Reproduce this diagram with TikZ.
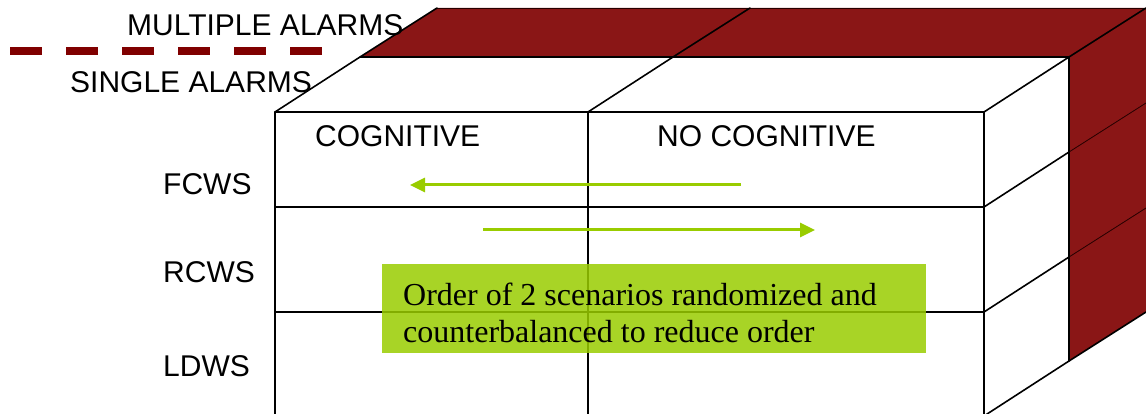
\documentclass[tikz,border=0pt]{standalone}
\usepackage{fontspec}
\setmainfont{Liberation Sans}
\newfontfamily\notefont{Liberation Serif}
\usetikzlibrary{arrows.meta}
\definecolor{alarmred}{RGB}{128,0,0}
\definecolor{slabred}{RGB}{138,22,22}
\definecolor{notegreen}{RGB}{153,204,0}

\begin{document}
\begin{tikzpicture}[x=1pt,y=-1pt,
  edge/.style={draw=black,line width=1.6pt,line join=round,line cap=round},
  faint/.style={draw=black!70!alarmred,line width=0.8pt},
  lbl/.style={font=\fontsize{30}{36}\selectfont,inner sep=0pt,anchor=base west},
  order/.style={draw=notegreen,line width=3pt,-{Triangle[length=15pt,width=14pt]}},
  legend/.style={draw=alarmred,line width=8pt,dash pattern=on 32pt off 24pt},
  notebox/.style={fill=notegreen,fill opacity=0.85,draw=none,inner sep=0pt,
    minimum width=544pt,minimum height=89pt,anchor=north west},
  notetext/.style={font=\notefont\fontsize{32}{38}\selectfont,inner sep=0pt,
    anchor=base west},
]
\useasboundingbox (0,0) rectangle (1146,414);

% ---- corner points -------------------------------------------------
% front block (single alarms): front face
\coordinate (fA) at (275,112);  \coordinate (fB) at (588,112);  \coordinate (fC) at (984,112);
\coordinate (fA1) at (275,207); \coordinate (fC1) at (984,207);
\coordinate (fA2) at (275,312); \coordinate (fC2) at (984,312);
\coordinate (fA3) at (275,416); \coordinate (fB3) at (588,416); \coordinate (fC3) at (984,416);
% back face of the front block (= front face of the rear block)
\coordinate (bA) at (360,57);   \coordinate (bB) at (673,57);   \coordinate (bC) at (1069,57);
\coordinate (bC1) at (1069,152); \coordinate (bC2) at (1069,257); \coordinate (bC3) at (1069,361);
% back face of the rear block (multiple alarms)
\coordinate (rA) at (437,8);    \coordinate (rB) at (750,8);    \coordinate (rC) at (1146,8);
\coordinate (rC1) at (1146,103); \coordinate (rC2) at (1146,208); \coordinate (rC3) at (1146,312);

% ---- rear block: top and side faces --------------------------------
\fill[slabred] (bA) -- (rA) -- (rC) -- (bC) -- cycle;
\fill[slabred] (bC) -- (rC) -- (rC3) -- (bC3) -- cycle;
\draw[faint] (rA) -- (rC);
\draw[faint] (bC1) -- (rC1);
\draw[faint] (bC2) -- (rC2);
\draw[edge] (bA) -- (rA);
\draw[edge] (bB) -- (rB);
\draw[edge] (bC) -- (rC);
\draw[edge] (bC3) -- (rC3);

% ---- front block ---------------------------------------------------
\draw[edge] (fA3) -- (fA) -- (fC) -- (fC3);
\draw[edge] (fB) -- (fB3);
\draw[edge] (fA1) -- (fC1);
\draw[edge] (fA2) -- (fC2);
\draw[edge] (fA) -- (bA) -- (bC) -- (bC3);
\draw[edge] (fB) -- (bB);
\draw[edge] (fC) -- (bC);
\draw[edge] (fC1) -- (bC1);
\draw[edge] (fC2) -- (bC2);
\draw[edge] (fC3) -- (bC3);

% ---- legend ----------------------------------------------------------
\coordinate (legS) at (10,51);
\coordinate (legE) at (322,51);
\draw[legend] (legS) -- (legE);
\node[lbl] (multi) at (127,36) {MULTIPLE ALARMS};
\node[lbl] (single) at (70,93) {SINGLE ALARMS};

% ---- column and row headings ---------------------------------------
\node[lbl] (cog) at (315,147) {COGNITIVE};
\node[lbl] (nocog) at (657,147) {NO COGNITIVE};
\node[lbl] (fcws) at (163,195) {FCWS};
\node[lbl] (rcws) at (163,282) {RCWS};
\node[lbl] (ldws) at (163,376) {LDWS};

% ---- order arrows ----------------------------------------------------
\coordinate (a1s) at (741,185); \coordinate (a1e) at (410,185);
\coordinate (a2s) at (483,230); \coordinate (a2e) at (815,230);
\draw[order] (a1s) -- (a1e);
\draw[order] (a2s) -- (a2e);

% ---- note --------------------------------------------------------------
\node[notebox] (note) at (382,264) {};
\node[notetext] (noteA) at (403,305) {Order of 2 scenarios randomized and};
\node[notetext] (noteB) at (403,342) {counterbalanced to reduce order};
\end{tikzpicture}
\end{document}
